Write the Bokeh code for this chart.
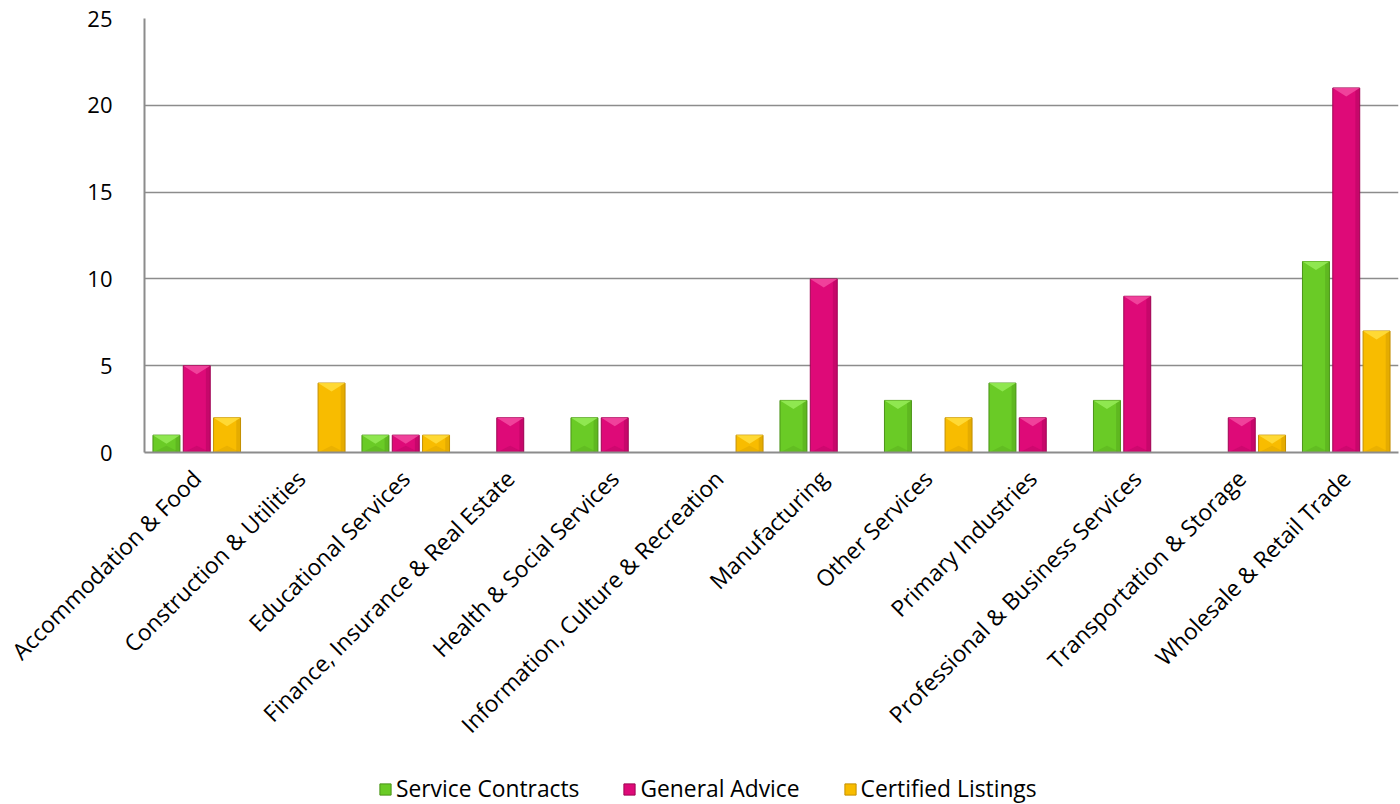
import math
from bokeh.plotting import figure
from bokeh.layouts import column
from bokeh.models import FixedTicker, Legend, LegendItem, ColumnDataSource, Range1d
from bokeh.embed import file_html
from bokeh.resources import INLINE

categories = ["Accommodation & Food", "Construction & Utilities", "Educational Services",
              "Finance, Insurance & Real Estate", "Health & Social Services",
              "Information, Culture & Recreation", "Manufacturing", "Other Services",
              "Primary Industries", "Professional & Business Services",
              "Transportation & Storage", "Wholesale & Retail Trade"]
series_names = ["Service Contracts", "General Advice", "Certified Listings"]
service_contracts = [1, 0, 1, 0, 2, 0, 3, 3, 4, 3, 0, 11]
general_advice = [5, 0, 1, 2, 2, 0, 10, 0, 2, 9, 2, 21]
certified_listings = [2, 4, 1, 0, 0, 1, 0, 2, 0, 0, 1, 7]
y_ticks = [0, 5, 10, 15, 20, 25]

series_values = [service_contracts, general_advice, certified_listings]
base_colors = ["#6ACB26", "#DE0A78", "#F8BC00"]
light_colors = ["#93EA55", "#F2479F", "#FFDC3A"]
dark_colors = ["#4B9418", "#9E0452", "#C48F00"]
offsets = [-0.29, 0.0, 0.29]
bar_w = 0.258

FONT = "Open Sans"

p = figure(width=1400, height=770, output_backend="svg", toolbar_location=None,
           x_range=Range1d(0, len(categories)), y_range=Range1d(0, 25),
           min_border_left=144, min_border_top=18, min_border_right=2,
           min_border_bottom=318)
p.outline_line_color = None
p.background_fill_color = "white"
p.border_fill_color = "white"

px_per_unit = 434 / 25.0
tri_depth = 8.5 / px_per_unit

for si, vals in enumerate(series_values):
    xs = [i + 0.5 + offsets[si] for i in range(len(categories))]
    nz = [(x, v) for x, v in zip(xs, vals) if v > 0]
    src = ColumnDataSource(dict(x=[a for a, b in nz], top=[b for a, b in nz]))
    p.vbar(x="x", top="top", width=bar_w, source=src, fill_color=base_colors[si],
           line_color=dark_colors[si], line_width=1)
    p.vbar(x=[a + bar_w * 0.42 for a, b in nz], top=[b for a, b in nz], width=bar_w * 0.16,
           fill_color=dark_colors[si], fill_alpha=0.35, line_color=None)
    txs, tys = [], []
    bxs, bys = [], []
    for a, b in nz:
        d = min(tri_depth, b * 0.5)
        txs.append([a - bar_w / 2, a + bar_w / 2, a])
        tys.append([b, b, b - d])
        bxs.append([a - bar_w / 2, a + bar_w / 2, a])
        bys.append([0, 0, d * 0.8])
    p.patches(txs, tys, fill_color=light_colors[si], line_color=None, fill_alpha=0.9)
    p.patches(bxs, bys, fill_color=dark_colors[si], line_color=None, fill_alpha=0.25)

p.xaxis.ticker = FixedTicker(ticks=[i + 0.5 for i in range(len(categories))])
p.xaxis.major_label_overrides = {i + 0.5: c for i, c in enumerate(categories)}
p.xaxis.major_label_orientation = math.pi / 4
p.xaxis.major_label_text_font = FONT
p.xaxis.major_label_text_font_size = "22.8px"
p.xaxis.major_label_text_color = "black"
p.xaxis.major_label_standoff = 16
p.xaxis.major_tick_line_color = None
p.xaxis.minor_tick_line_color = None
p.xaxis.axis_line_color = "#8C8C8C"
p.xaxis.axis_line_width = 2

p.yaxis.ticker = FixedTicker(ticks=y_ticks)
p.yaxis.major_label_text_font = FONT
p.yaxis.major_label_text_font_size = "22px"
p.yaxis.major_label_text_color = "black"
p.yaxis.major_label_standoff = 26
p.yaxis.major_tick_line_color = None
p.yaxis.minor_tick_line_color = None
p.yaxis.axis_line_color = "#8C8C8C"
p.yaxis.axis_line_width = 2

p.xgrid.grid_line_color = None
p.ygrid.grid_line_color = "#8C8C8C"
p.ygrid.grid_line_width = 1.5

# legend strip
lg = figure(width=1400, height=34, output_backend="svg", toolbar_location=None,
            x_range=Range1d(0, 1), y_range=Range1d(0, 1),
            x_axis_location=None, y_axis_location=None,
            min_border_left=0, min_border_right=0, min_border_top=0, min_border_bottom=0)
lg.outline_line_color = None
lg.xgrid.grid_line_color = None
lg.ygrid.grid_line_color = None
items = []
for si, name in enumerate(series_names):
    r = lg.vbar(x=[-5], top=[-5], width=0.1, fill_color=base_colors[si],
                line_color=dark_colors[si])
    items.append(LegendItem(label=name, renderers=[r]))
legend = Legend(items=items, orientation="horizontal", location=(234, 0),
                label_text_font=FONT, label_text_font_size="22.8px", label_text_color="black",
                glyph_width=14, glyph_height=14, spacing=43, label_standoff=4,
                border_line_color=None, background_fill_alpha=0, padding=2, margin=0)
lg.add_layout(legend, "center")

open("out.html", "w").write(file_html(column(p, lg, spacing=0), INLINE))
